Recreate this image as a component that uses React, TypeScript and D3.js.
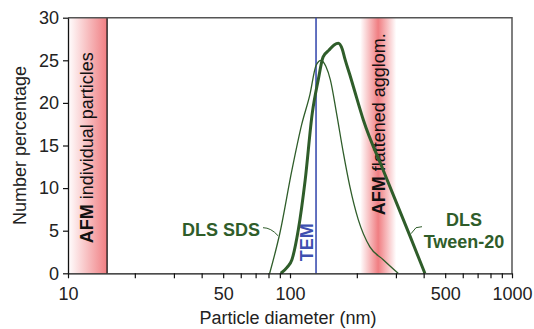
import { useEffect, useRef } from 'react';
import * as d3 from 'd3';

// DLS Tween-20 (thick curve): particle diameter (nm) and number %
const tweenSize = [91, 97, 102, 109, 117, 126, 134, 141, 150, 158, 165, 172, 177, 186, 193, 214, 263, 348, 405];
const tweenPct = [0, 0.7, 1.6, 5.1, 10.9, 18.8, 22.7, 25.4, 26.2, 26.8, 27.0, 26.3, 25.1, 23.3, 21.9, 18.0, 12.1, 4.3, 0];

// DLS SDS (thin curve)
const sdsSize = [81, 90, 102, 113, 123, 131, 138, 145, 152, 162, 174, 186, 203, 229, 263, 307];
const sdsPct = [0, 4.7, 12.1, 17.5, 21.0, 24.4, 25.0, 24.3, 22.7, 18.8, 14.1, 10.2, 6.3, 3.1, 1.6, 0];

const temSize = 131;
const afmIndividual = [10, 15];
const afmAgglom = [207, 250, 301];

const xTicksLabeled = [10, 50, 100, 500, 1000];
const yTicks = [0, 5, 10, 15, 20, 25, 30];

const W = 534;
const H = 329;
const green = '#2f5d2a';
const blue = '#3d4fb0';
const pink = '#f07e82';
const font = 'Liberation Sans, Arial, sans-serif';

const App = () => {
  const ref = useRef<SVGSVGElement>(null);

  useEffect(() => {
    if (!ref.current) return;
    const svg = d3.select(ref.current);
    svg.selectAll('*').remove();

    const margin = { top: 17.7, right: 22, bottom: 55.7, left: 68 };
    const width = W - margin.left - margin.right;
    const height = H - margin.top - margin.bottom;

    const x = d3.scaleLog().domain([10, 1000]).range([0, width]);
    const y = d3.scaleLinear().domain([0, 30]).range([height, 0]);

    const defs = svg.append('defs');
    const g1 = defs.append('linearGradient').attr('id', 'bandLeft');
    g1.append('stop').attr('offset', '0%').attr('stop-color', '#ffffff');
    g1.append('stop').attr('offset', '100%').attr('stop-color', pink);
    const g2 = defs.append('linearGradient').attr('id', 'bandRight');
    g2.append('stop').attr('offset', '0%').attr('stop-color', pink).attr('stop-opacity', 0);
    g2.append('stop').attr('offset', '50%').attr('stop-color', pink).attr('stop-opacity', 1);
    g2.append('stop').attr('offset', '100%').attr('stop-color', pink).attr('stop-opacity', 0);

    const g = svg.append('g').attr('transform', `translate(${margin.left},${margin.top})`);

    // AFM bands
    g.append('rect')
      .attr('x', x(afmIndividual[0]))
      .attr('y', 0)
      .attr('width', x(afmIndividual[1]) - x(afmIndividual[0]))
      .attr('height', height)
      .attr('fill', 'url(#bandLeft)');
    g.append('line')
      .attr('x1', x(afmIndividual[1])).attr('x2', x(afmIndividual[1]))
      .attr('y1', 0).attr('y2', height)
      .attr('stroke', '#111').attr('stroke-width', 1.3);

    g.append('rect')
      .attr('x', x(afmAgglom[0]))
      .attr('y', 0)
      .attr('width', x(afmAgglom[2]) - x(afmAgglom[0]))
      .attr('height', height)
      .attr('fill', 'url(#bandRight)');

    // frame (top + right)
    g.append('path')
      .attr('d', `M0,0H${width}V${height}`)
      .attr('fill', 'none')
      .attr('stroke', '#555')
      .attr('stroke-width', 1.5);

    // band labels
    const bandLabel = (cx: number, yStart: number, rest: string) => {
      const t = g.append('text')
        .attr('transform', `translate(${cx},${yStart}) rotate(-90)`)
        .style('font-family', font)
        .style('font-size', '18px')
        .attr('fill', '#111');
      t.append('tspan').style('font-weight', 'bold').text('AFM');
      t.append('tspan').text(rest);
    };
    bandLabel(x(afmIndividual[0]) + 25, height - 30, ' individual particles');
    bandLabel(x(afmAgglom[1]) + 6.5, height - 58, ' flattened agglom.');

    // TEM line
    g.append('line')
      .attr('x1', x(temSize)).attr('x2', x(temSize))
      .attr('y1', 0).attr('y2', height)
      .attr('stroke', blue).attr('stroke-width', 1.6);
    g.append('text')
      .attr('transform', `translate(${x(temSize) - 3.5},${height - 12}) rotate(-90)`)
      .style('font-family', font)
      .style('font-size', '18px')
      .style('font-weight', 'bold')
      .attr('fill', blue)
      .text('TEM');

    // curves
    const line = d3.line<[number, number]>()
      .x(d => x(d[0]))
      .y(d => y(d[1]))
      .curve(d3.curveMonotoneX);

    g.append('path')
      .attr('d', line(sdsSize.map((s, i) => [s, sdsPct[i]] as [number, number])))
      .attr('fill', 'none')
      .attr('stroke', green)
      .attr('stroke-width', 1.3);

    g.append('path')
      .attr('d', line(tweenSize.map((s, i) => [s, tweenPct[i]] as [number, number])))
      .attr('fill', 'none')
      .attr('stroke', green)
      .attr('stroke-width', 3)
      .attr('stroke-linejoin', 'round');

    // curve labels with leader lines
    g.append('text')
      .attr('x', 192)
      .attr('y', 218)
      .attr('text-anchor', 'end')
      .style('font-family', font)
      .style('font-size', '18px')
      .style('font-weight', 'bold')
      .attr('fill', green)
      .text('DLS SDS');
    g.append('path')
      .attr('d', 'M195,210 Q203,210 210,218')
      .attr('fill', 'none')
      .attr('stroke', green)
      .attr('stroke-width', 1);

    const tw = g.append('text')
      .attr('text-anchor', 'middle')
      .style('font-family', font)
      .style('font-size', '18px')
      .style('font-weight', 'bold')
      .attr('fill', green);
    tw.append('tspan').attr('x', 396).attr('y', 208).text('DLS');
    tw.append('tspan').attr('x', 396).attr('y', 230).text('Tween-20');
    g.append('path')
      .attr('d', 'M354,209 L348,210 L343,216')
      .attr('fill', 'none')
      .attr('stroke', green)
      .attr('stroke-width', 1);

    // x axis
    const minor: number[] = [];
    for (let dec = 10; dec < 1000; dec *= 10) {
      for (let k = 1; k < 10; k++) minor.push(dec * k);
    }
    minor.push(1000);
    const xAxis = g.append('g').attr('transform', `translate(0,${height})`);
    xAxis.call(
      d3.axisBottom(x)
        .tickValues(minor)
        .tickSize(5)
        .tickSizeOuter(0)
        .tickFormat(d => (xTicksLabeled.includes(+d) ? String(d) : ''))
    );
    xAxis.select('.domain').attr('stroke', '#111').attr('stroke-width', 1.3);
    xAxis.selectAll('.tick line').attr('stroke', '#111').attr('stroke-width', 1.2);
    xAxis.selectAll('.tick text')
      .attr('y', 14)
      .style('font-family', font)
      .style('font-size', '18px')
      .attr('fill', '#222');

    // y axis
    const yAxis = g.append('g');
    yAxis.call(d3.axisLeft(y).tickValues(yTicks).tickSize(5).tickSizeOuter(0));
    yAxis.select('.domain').attr('stroke', '#111').attr('stroke-width', 1.3);
    yAxis.selectAll('.tick line').attr('stroke', '#111').attr('stroke-width', 1.2);
    yAxis.selectAll('.tick text')
      .attr('x', -9)
      .style('font-family', font)
      .style('font-size', '18px')
      .attr('fill', '#222');

    // axis titles
    svg.append('text')
      .attr('x', margin.left + x(100) - 2)
      .attr('y', 324)
      .attr('text-anchor', 'middle')
      .style('font-family', font)
      .style('font-size', '18px')
      .attr('fill', '#222')
      .text('Particle diameter (nm)');

    svg.append('text')
      .attr('transform', `translate(26,${margin.top + height / 2}) rotate(-90)`)
      .attr('text-anchor', 'middle')
      .style('font-family', font)
      .style('font-size', '18px')
      .attr('fill', '#222')
      .text('Number percentage');
  }, []);

  return (
    <svg
      ref={ref}
      width={W}
      height={H}
      style={{ position: 'absolute', left: 0, top: 0, background: '#fff' }}
    />
  );
};

export default App;
